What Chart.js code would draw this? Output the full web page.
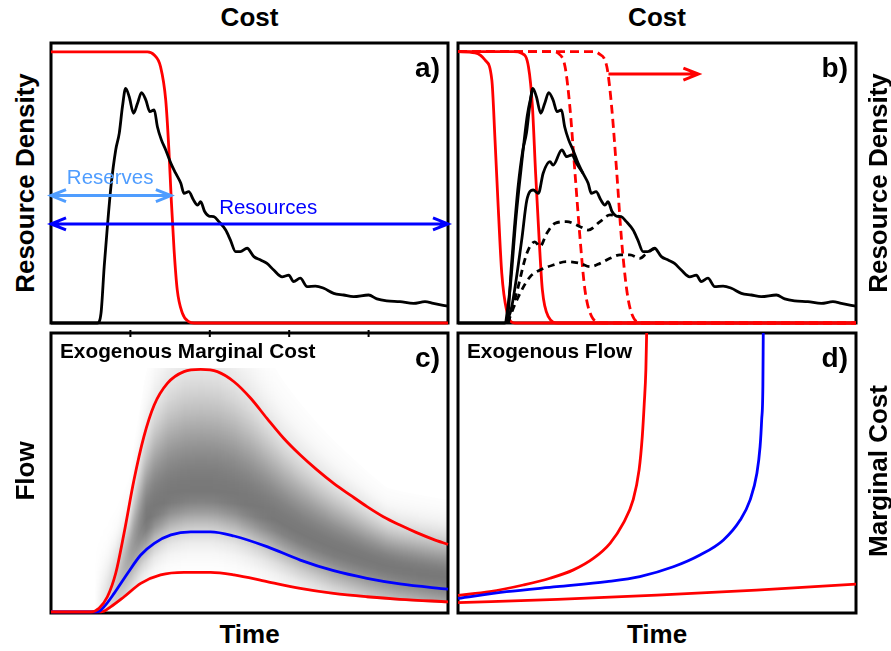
<!DOCTYPE html>
<html>
<head>
<meta charset="utf-8">
<script src="https://cdn.jsdelivr.net/npm/chart.js@4.4.0/dist/chart.umd.min.js"></script>
<style>
  body { margin: 0; background: #fff; }
  #fig { position: relative; width: 891px; height: 651px; overflow: hidden; font-family: "Liberation Sans", Arial, sans-serif; }
  canvas { position: absolute; }
  .lbl { position: absolute; font-weight: bold; font-size: 26px; line-height: 1; white-space: nowrap; color: #000; transform: translate(-50%, -50%); }
  .rot { transform: translate(-50%, -50%) rotate(-90deg); }
</style>
</head>
<body>
<div id="fig">
  <canvas id="pa"></canvas>
  <canvas id="pb"></canvas>
  <canvas id="pc"></canvas>
  <canvas id="pd"></canvas>
  <div class="lbl" style="left:249.5px;top:17px">Cost</div>
  <div class="lbl" style="left:657px;top:17px">Cost</div>
  <div class="lbl rot" style="left:24.5px;top:183px">Resource Density</div>
  <div class="lbl rot" style="left:877.5px;top:183px">Resource Density</div>
  <div class="lbl rot" style="left:24.5px;top:471px">Flow</div>
  <div class="lbl rot" style="left:877.5px;top:471px">Marginal Cost</div>
  <div class="lbl" style="left:249.5px;top:634px">Time</div>
  <div class="lbl" style="left:657px;top:634px">Time</div>
</div>
<script>
// ---- data (axes 0..100) ----
// a) / b): resource density vs cost
const densityCost = [0, 11.7, 12.6, 13.4, 14.2, 15.1, 16.3, 17.2, 18.0, 18.8, 19.7, 20.8, 21.8, 22.8, 23.9, 24.9, 26.0, 26.8, 27.8, 28.9,
  30.2, 31.4, 32.7, 33.5, 34.7, 35.9, 36.9, 37.7, 38.7, 39.8, 41.0, 42.3, 44.0, 45.2, 46.5, 47.7, 49.4, 51.1, 52.8, 54.4,
  56.1, 58.2, 59.9, 61.1, 62.8, 64.5, 66.6, 68.7, 71.2, 73.7, 76.2, 80.0, 82.1, 84.6, 87.9, 91.3, 94.2, 96.3, 100];
const densityValue = [0, 0, 3.5, 20.1, 34.4, 48.7, 61.8, 67.8, 77.3, 83.8, 80.8, 74.9, 78.5, 82.3, 79.6, 75.5, 76.1, 70.1, 65.4, 61.8,
  57.0, 53.5, 49.9, 46.3, 46.9, 43.9, 42.1, 43.3, 39.8, 38.2, 38.0, 36.2, 33.2, 29.6, 25.5, 25.5, 26.7, 23.7, 22.5, 21.3,
  18.9, 16.5, 17.1, 14.8, 16.0, 13.0, 13.2, 12.4, 10.6, 10.0, 9.4, 10.0, 8.6, 7.9, 7.6, 7.0, 7.6, 7.0, 6.0];

const aPriceCost = [0, 24.3, 26.0, 27.6, 28.9, 29.7, 30.3, 31.0, 31.8, 33.1, 34.7, 36.0, 100];
const aPriceValue = [96.8, 96.8, 95.7, 91.5, 79.6, 61.8, 43.9, 26.1, 11.8, 3.5, 0.5, 0, 0];

const bPrice1Cost = [0, 4.3, 6.8, 8.5, 9.3, 10.1, 11.0, 12.2, 14.3, 100];
const bPrice1Value = [96.9, 96.5, 93.9, 86.8, 65.4, 41.5, 17.7, 4.6, 0, 0];
const bPrice2Cost = [0, 14, 16.0, 17.7, 18.7, 19.5, 20.4, 21.2, 22.7, 25.2, 100];
const bPrice2Value = [96.9, 96.9, 96.3, 91.5, 77.3, 53.5, 29.6, 11.8, 2.3, 0, 0];
const bPrice3Cost = [0, 24, 25.2, 26.9, 28.1, 29.4, 30.7, 31.9, 33.6, 36.1, 100];
const bPrice3Value = [96.9, 96.9, 96.3, 91.5, 77.3, 53.5, 29.6, 11.8, 2.3, 0, 0];
const bPrice4Cost = [0, 34, 35.3, 37.4, 38.6, 39.9, 41.1, 42.4, 43.6, 46.2, 100];
const bPrice4Value = [96.9, 96.9, 96.3, 91.5, 77.3, 53.5, 29.6, 11.8, 3.5, 0, 0];

const bRiseCost = [12.0, 13.2, 14.6, 16.0, 17.4, 18.8];
const bRiseValue = [0, 14, 38, 57, 74, 83.8];
const bMidCost = [12.2, 13.5, 16.0, 17.3, 18.9, 20.2, 21.4, 23.1, 23.9, 26.1, 27.3, 28.6, 29.8, 31.4];
const bMidValue = [0, 5.8, 29.6, 43.9, 47.5, 46.3, 53.5, 57.6, 56.4, 61.8, 59.4, 60.0, 57.0, 53.5];
const bDash1Cost = [12.5, 14.7, 17.3, 19.3, 20.6, 22.3, 24.4, 27.3, 30.7, 32.7, 35.7, 38.2, 40.7];
const bDash1Value = [0, 10.6, 24.9, 29.0, 27.3, 32.0, 35.6, 36.2, 34.4, 33.2, 36.2, 38.6, 38.0];
const bDash2Cost = [12.6, 13.1, 15.6, 18.1, 20.6, 23.9, 27.3, 30.7, 33.2, 35.7, 38.2, 40.7, 43.2, 45.7, 47.4, 49.4];
const bDash2Value = [0, 2.3, 10.6, 16.5, 18.9, 20.7, 21.9, 21.3, 20.1, 21.3, 23.1, 24.3, 24.3, 23.1, 24.9, 26.7];

// c) flow vs time
const cUpperTime = [0, 10.1, 12.1, 14.2, 16.3, 18.4, 20.9, 23.4, 26.0, 29.3, 33.5, 37.7, 41.9, 46.1, 50.3, 54.4, 58.6, 62.8, 67.0, 71.2, 75.4, 79.6, 83.7, 87.9, 92.1, 96.3, 100];
const cUpperFlow = [0.4, 0.4, 1.7, 5.8, 14.2, 28.5, 47.5, 63.0, 74.3, 82.0, 86.2, 87.0, 86.2, 82.6, 76.7, 69.5, 62.4, 56.4, 51.1, 46.3, 42.1, 38.0, 34.4, 31.4, 28.7, 26.3, 24.5];
const cMidTime = [0, 11.7, 13.4, 15.9, 19.3, 22.6, 26.0, 30.2, 35.2, 40.2, 46.1, 54.4, 62.8, 71.2, 79.6, 87.9, 100];
const cMidFlow = [0.4, 0.4, 2.3, 7.0, 14.2, 20.7, 24.9, 27.9, 29.0, 29.0, 27.5, 23.7, 18.9, 15.1, 12.4, 10.4, 8.5];
const cLowTime = [0, 12.6, 15.1, 18.4, 22.6, 27.6, 33.5, 40.2, 46.1, 54.4, 62.8, 71.2, 79.6, 87.9, 100];
const cLowFlow = [0.4, 0.4, 2.3, 5.8, 10.6, 13.6, 14.5, 14.5, 13.6, 11.2, 8.8, 7.0, 5.8, 4.9, 4.0];
const cTopTicks = [20, 40, 60, 80];

// d) marginal cost vs time
const dFastTime = [0, 8.0, 16.4, 23.1, 29.0, 34.0, 38.2, 41.5, 44.0, 45.5, 46.3, 46.8, 47.2, 47.4];
const dFastCost = [6.3, 7.6, 10.0, 12.4, 15.4, 19.5, 24.9, 32.0, 40.4, 51.1, 63.0, 74.9, 86.8, 100];
const dMidTime = [0, 12.2, 24.8, 37.4, 45.7, 54.1, 60.8, 66.7, 70.9, 73.4, 75.1, 75.9, 76.3, 76.6, 76.7];
const dMidCost = [5.2, 7.6, 9.4, 11.2, 13.0, 16.5, 20.7, 26.1, 33.2, 40.4, 49.9, 59.4, 69.0, 80.9, 100];
const dSlowTime = [0, 25, 50, 75, 100];
const dSlowCost = [3.7, 4.9, 6.4, 8.2, 10.3];

const RED = '#ff0000', BLUE = '#0000ff', LIGHTBLUE = '#4f9dff', BLACK = '#000000';
const FONT = '"Liberation Sans", Arial, sans-serif';

function line(xs, ys, color, dash) {
  return {
    data: xs.map((x, i) => ({ x: x, y: ys[i] })),
    borderColor: color,
    borderDash: dash || [],
    fill: false,
    clip: 6
  };
}

function yAt(pts, px) {
  if (px <= pts[0].x) return pts[0].y;
  for (let i = 1; i < pts.length; i++) {
    if (pts[i].x >= px) {
      const p = pts[i - 1], q = pts[i];
      const t = (px - p.x) / ((q.x - p.x) || 1);
      return p.y + t * (q.y - p.y);
    }
  }
  return pts[pts.length - 1].y;
}

// grey density band drawn between the red bounds of panel c
function drawShade(chart, s) {
  const ctx = chart.ctx, a = chart.chartArea;
  const U = chart.getDatasetMeta(s.upper).data;
  const M = chart.getDatasetMeta(s.mid).data;
  const L = chart.getDatasetMeta(s.lower).data;
  const N = 20;
  ctx.save();
  for (let px = Math.ceil(a.left); px < a.right; px++) {
    const xv = chart.scales.x.getValueForPixel(px + 0.5);
    const f = Math.max(0, Math.min(1, (xv - s.fromX) / (s.toX - s.fromX)));
    if (f <= 0) continue;
    const u = yAt(U, px), m = yAt(M, px), l = yAt(L, px);
    const c = m - 0.25 * (m - u);
    const sa = Math.max(0.55 * (c - u), 26), sb = 26;
    const top = Math.max(a.top + s.topOffset, c - 3 * sa);
    const bottom = l + 1.5;
    if (bottom <= top) continue;
    const g = ctx.createLinearGradient(0, top, 0, bottom);
    for (let k = 0; k <= N; k++) {
      const y = top + (bottom - top) * k / N;
      const d = y - c;
      const sig = d < 0 ? sa : sb;
      const al = s.max * f * Math.exp(-d * d / (2 * sig * sig));
      g.addColorStop(k / N, 'rgba(0,0,0,' + al.toFixed(3) + ')');
    }
    ctx.fillStyle = g;
    ctx.fillRect(px, top, 1, bottom - top);
  }
  ctx.restore();
}

function drawArrow(ctx, x1, x2, y, color, both) {
  const len = 15, hw = 6;
  ctx.save();
  ctx.strokeStyle = color;
  ctx.lineWidth = 3;
  ctx.lineJoin = 'miter';
  ctx.beginPath();
  ctx.moveTo(x1, y); ctx.lineTo(x2, y);
  ctx.moveTo(x2 - len, y - hw); ctx.lineTo(x2, y); ctx.lineTo(x2 - len, y + hw);
  if (both) { ctx.moveTo(x1 + len, y - hw); ctx.lineTo(x1, y); ctx.lineTo(x1 + len, y + hw); }
  ctx.stroke();
  ctx.restore();
}

const decor = {
  id: 'decor',
  beforeDatasetsDraw(chart, args, o) {
    const ctx = chart.ctx, a = chart.chartArea;
    if (o.shade) drawShade(chart, o.shade);
    ctx.save();
    ctx.strokeStyle = BLACK;
    ctx.lineWidth = 3;
    ctx.strokeRect(a.left, a.top, a.width, a.height);
    if (o.topTicks) {
      ctx.lineWidth = 2;
      ctx.beginPath();
      o.topTicks.forEach(v => {
        const x = chart.scales.x.getPixelForValue(v);
        ctx.moveTo(x, a.top - 3); ctx.lineTo(x, a.top + 4);
      });
      ctx.stroke();
    }
    ctx.restore();
  },
  afterDatasetsDraw(chart, args, o) {
    const ctx = chart.ctx, a = chart.chartArea;
    const sx = v => chart.scales.x.getPixelForValue(v);
    const sy = v => chart.scales.y.getPixelForValue(v);
    (o.arrows || []).forEach(ar => drawArrow(ctx, sx(ar.x1), sx(ar.x2), sy(ar.y), ar.color, ar.both));
    ctx.save();
    (o.texts || []).forEach(t => {
      ctx.font = '20.5px ' + FONT;
      ctx.fillStyle = t.color;
      ctx.textAlign = 'center';
      ctx.textBaseline = 'alphabetic';
      ctx.fillText(t.text, sx(t.x), sy(t.y));
    });
    if (o.tag) {
      ctx.font = 'bold 28px ' + FONT;
      ctx.fillStyle = BLACK;
      ctx.textAlign = 'right';
      ctx.textBaseline = 'alphabetic';
      ctx.fillText(o.tag, a.right - 8, a.top + 33.5);
    }
    if (o.title) {
      ctx.font = 'bold 20.8px ' + FONT;
      ctx.fillStyle = BLACK;
      ctx.textAlign = 'left';
      ctx.textBaseline = 'alphabetic';
      ctx.fillText(o.title, a.left + 9, a.top + 25);
    }
    ctx.restore();
  }
};
Chart.register(decor);

function panel(id, box, datasets, deco) {
  const pad = 6;
  const cv = document.getElementById(id);
  cv.width = box[2] + 2 * pad;
  cv.height = box[3] + 2 * pad;
  cv.style.left = (box[0] - pad) + 'px';
  cv.style.top = (box[1] - pad) + 'px';
  return new Chart(cv, {
    type: 'line',
    data: { datasets: datasets },
    options: {
      responsive: false,
      animation: false,
      devicePixelRatio: 1,
      layout: { padding: pad },
      scales: {
        x: { type: 'linear', min: 0, max: 100, display: false },
        y: { type: 'linear', min: 0, max: 100, display: false }
      },
      elements: {
        point: { radius: 0 },
        line: { borderWidth: 2.8, cubicInterpolationMode: 'monotone' }
      },
      plugins: {
        legend: { display: false },
        tooltip: { enabled: false },
        decor: deco
      }
    }
  });
}

panel('pa', [51, 43, 397, 280], [
  line(densityCost, densityValue, BLACK),
  line(aPriceCost, aPriceValue, RED)
], {
  tag: 'a)',
  arrows: [
    { x1: 0, x2: 30.2, y: 45.5, color: LIGHTBLUE, both: true },
    { x1: 0, x2: 100, y: 35.4, color: BLUE, both: true }
  ],
  texts: [
    { text: 'Reserves', x: 14.9, y: 49.6, color: LIGHTBLUE },
    { text: 'Resources', x: 54.7, y: 38.9, color: BLUE }
  ]
});

panel('pb', [458, 43, 398, 280], [
  line(bDash2Cost, bDash2Value, BLACK, [7, 5]),
  line(bDash1Cost, bDash1Value, BLACK, [7, 5]),
  line(bMidCost, bMidValue, BLACK),
  line(bRiseCost, bRiseValue, BLACK),
  line(densityCost, densityValue, BLACK),
  line(bPrice4Cost, bPrice4Value, RED, [9, 5]),
  line(bPrice3Cost, bPrice3Value, RED, [9, 5]),
  line(bPrice2Cost, bPrice2Value, RED),
  line(bPrice1Cost, bPrice1Value, RED)
], {
  tag: 'b)',
  arrows: [{ x1: 37.8, x2: 60.4, y: 88.9, color: RED, both: false }]
});

panel('pc', [51, 333, 397, 280], [
  line(cUpperTime, cUpperFlow, RED),
  line(cMidTime, cMidFlow, BLUE),
  line(cLowTime, cLowFlow, RED)
], {
  tag: 'c)',
  title: 'Exogenous Marginal Cost',
  topTicks: cTopTicks,
  shade: { upper: 0, mid: 1, lower: 2, fromX: 11, toX: 24, topOffset: 35, max: 0.53 }
});

panel('pd', [458, 333, 398, 280], [
  line(dSlowTime, dSlowCost, RED),
  line(dMidTime, dMidCost, BLUE),
  line(dFastTime, dFastCost, RED)
], {
  tag: 'd)',
  title: 'Exogenous Flow'
});
</script>
</body>
</html>
